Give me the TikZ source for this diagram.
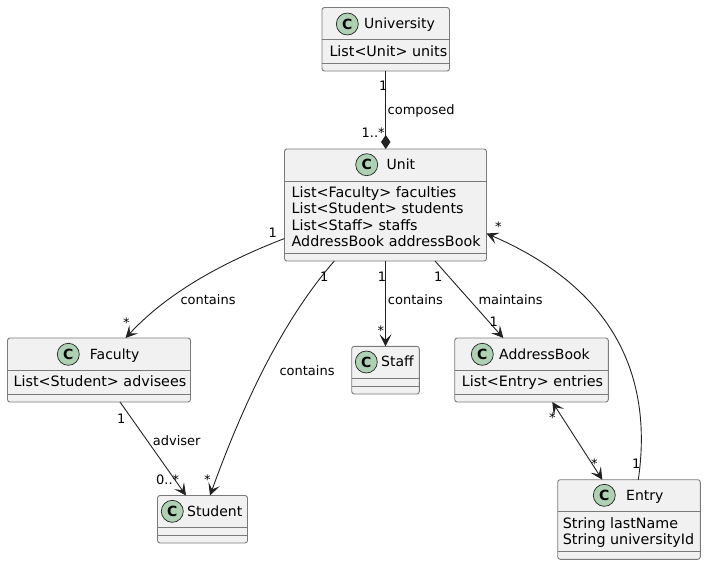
\documentclass[tikz,border=0pt]{standalone}
\usepackage{fontspec}
\setmainfont{DejaVu Sans}
\usetikzlibrary{arrows.meta}
\definecolor{boxfill}{HTML}{F1F1F1}
\definecolor{boxline}{HTML}{7A7A7A}
\definecolor{ink}{HTML}{222222}
\definecolor{spot}{HTML}{ADD1B2}
\tikzset{
  classbox/.style={draw=boxline,fill=boxfill,line width=0.9pt,rounded corners=2.5pt,inner sep=0pt,outer sep=0pt,anchor=north west},
  sepline/.style={draw=boxline,line width=0.9pt},
  spotc/.style={circle,draw=ink,fill=spot,line width=0.7pt,minimum size=22pt,inner sep=0pt,font=\fontsize{14}{14}\selectfont\bfseries,text=black},
  titletext/.style={anchor=base west,inner sep=0pt,font=\fontsize{14}{14}\selectfont,text=black},
  membertext/.style={anchor=base west,inner sep=0pt,font=\fontsize{14.3}{14.3}\selectfont,text=black},
  lab/.style={anchor=base west,inner sep=0pt,font=\fontsize{13}{13}\selectfont,text=black},
  conn/.style={draw=ink,line width=0.9pt},
  opentip/.style={-{Stealth[length=12pt,width=12pt,inset=5.5pt,color=ink]}},
  bothtip/.style={{Stealth[length=12pt,width=12pt,inset=5.5pt,color=ink]}-{Stealth[length=12pt,width=12pt,inset=5.5pt,color=ink]}},
  comptip/.style={-{Diamond[length=14pt,width=9.5pt,color=ink]}},
}
% name, x, y, w, h, first separator offset, second separator offset
\newcommand{\classrect}[7]{%
  \node[classbox,minimum width=#4pt,minimum height=#5pt] (#1) at (#2,#3) {};
  \draw[sepline] ([yshift=-#6pt]#1.north west) -- ([yshift=-#6pt]#1.north east);
  \draw[sepline] ([yshift=-#7pt]#1.north west) -- ([yshift=-#7pt]#1.north east);
}
\begin{document}
\begin{tikzpicture}[x=1pt,y=-1pt]
\useasboundingbox (0,0) rectangle (706,565);

\classrect{uni}{322}{7.5}{127.5}{63.5}{32}{55.5}
\classrect{unit}{284.5}{149}{202}{112}{32}{104}
\classrect{fac}{7.5}{338}{183}{64}{32}{56}
\classrect{stu}{157.5}{495.5}{90}{47.5}{32}{39.5}
\classrect{sta}{351.7}{346.3}{67.6}{47.7}{32}{39.7}
\classrect{adr}{454.7}{338}{153.6}{64}{32}{56}
\classrect{ent}{557.7}{479.7}{142.6}{79.6}{31.8}{71.3}

\node[spotc] (unic) at (347.3,24) {C};
\node[spotc] (unitc) at (366.7,164.7) {C};
\node[spotc] (facc) at (68.3,354.3) {C};
\node[spotc] (stuc) at (172.3,511.3) {C};
\node[spotc] (stac) at (366.3,362) {C};
\node[spotc] (adrc) at (482.3,354.3) {C};
\node[spotc] (entc) at (604.3,495.3) {C};

\node[titletext] (unit1) at (364,28.5) {University};
\node[titletext] (unit2) at (386.5,169.5) {Unit};
\node[titletext] (unit3) at (89.7,359) {Faculty};
\node[titletext] (unit4) at (187,516) {Student};
\node[titletext] (unit5) at (381,366.7) {Staff};
\node[titletext] (unit6) at (499,359) {AddressBook};
\node[titletext] (unit7) at (626,500) {Entry};

\node[membertext] (m1) at (329.3,56) {List<Unit> units};
\node[membertext] (m2) at (291.5,197) {List<Faculty> faculties};
\node[membertext] (m3) at (291.5,213) {List<Student> students};
\node[membertext] (m4) at (291.5,230) {List<Staff> staffs};
\node[membertext] (m5) at (291.5,246) {AddressBook addressBook};
\node[membertext] (m6) at (13.5,386.7) {List<Student> advisees};
\node[membertext] (m7) at (461.7,386.7) {List<Entry> entries};
\node[membertext] (m8) at (562.7,528.3) {String lastName};
\node[membertext] (m9) at (562.7,544.3) {String universityId};

\draw[conn,comptip] (uni.south) -- (uni.south |- unit.north);
\draw[conn,opentip] ([shift={(0,89.5)}]unit.north west) .. controls (190,275) and (150,312) .. ([xshift=118pt]fac.north west);
\draw[conn,opentip] ([xshift=49.8pt]unit.south west) .. controls (290,312) and (250,385) .. ([xshift=52.5pt]stu.north west);
\draw[conn,opentip] (unit.south) -- (unit.south |- sta.north);
\draw[conn,opentip] ([xshift=150.5pt]unit.south west) -- ([xshift=48.6pt]adr.north west);
\draw[conn,opentip] ([xshift=80.6pt]ent.north west) .. controls (652,385) and (622,292) .. ([shift={(0,84.5)}]unit.north east);
\draw[conn,bothtip] ([xshift=97.6pt]adr.south west) -- ([xshift=44.6pt]ent.north west);
\draw[conn,opentip] ([xshift=112.5pt]fac.south west) -- ([xshift=28.5pt]stu.north west);

\node[lab] (l1) at (378.8,90.7) {1};
\node[lab] (l2) at (361.5,137) {1..*};
\node[lab] (l3) at (387.5,114) {composed};
\node[lab] (l4) at (268.5,237) {1};
\node[lab] (l5) at (180.3,304) {contains};
\node[lab] (l6) at (123,327) {*};
\node[lab] (l7) at (320,281.7) {1};
\node[lab] (l8) at (279.3,375) {contains};
\node[lab] (l9) at (117,423.3) {1};
\node[lab] (l10) at (152.7,445) {adviser};
\node[lab] (l11) at (156,484.3) {0..*};
\node[lab] (l12) at (204,484.3) {*};
\node[lab] (l13) at (377.7,281.7) {1};
\node[lab] (l14) at (387.7,304) {contains};
\node[lab] (l15) at (377.5,335) {*};
\node[lab] (l16) at (434,281.7) {1};
\node[lab] (l17) at (478.3,304) {maintains};
\node[lab] (l18) at (489.5,326.7) {1};
\node[lab] (l19) at (495,231) {*};
\node[lab] (l20) at (549,422.5) {*};
\node[lab] (l21) at (591,468) {*};
\node[lab] (l22) at (632,468.3) {1};
\end{tikzpicture}
\end{document}
